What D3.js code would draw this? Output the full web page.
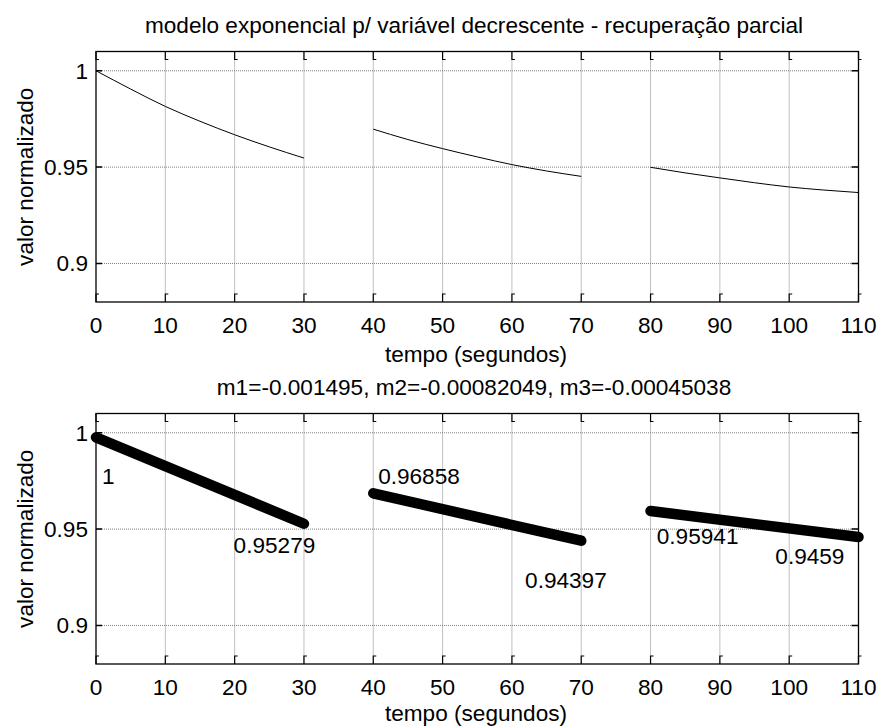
<!DOCTYPE html>
<html>
<head>
<meta charset="utf-8">
<script src="https://cdn.jsdelivr.net/npm/d3@7"></script>
<style>
  body { margin: 0; background: #fff; }
  text { font-family: "Liberation Sans", Arial, sans-serif; fill: #000; }
</style>
</head>
<body>
<svg id="chart"></svg>
<script>
// ticks
const xTicks = [0, 10, 20, 30, 40, 50, 60, 70, 80, 90, 100, 110]
const yTicks = [0.9, 0.95, 1]

// measured curves (top panel)
const tempo1 = [0, 5, 10, 15, 20, 25, 30]
const valor1 = [1.0, 0.9905, 0.9815, 0.9738, 0.9668, 0.9605, 0.9547]
const tempo2 = [40, 45, 50, 55, 60, 65, 70]
const valor2 = [0.9697, 0.9643, 0.9596, 0.9553, 0.9513, 0.9480, 0.9452]
const tempo3 = [80, 85, 90, 95, 100, 105, 110]
const valor3 = [0.9499, 0.9470, 0.9444, 0.9419, 0.9397, 0.9381, 0.9368]

// linear fits (bottom panel)
const fitT0 = [0, 40, 80]
const fitT1 = [30, 70, 110]
const fitV0 = [0.99764, 0.96858, 0.95941]
const fitV1 = [0.95279, 0.94397, 0.9459]

// value labels on the bottom panel
const labelText = ['1', '0.95279', '0.96858', '0.94397', '0.95941', '0.9459']
const labelT = [0.87, 19.85, 40.7, 61.9, 80.9, 98.0]
const labelV = [0.9732, 0.9377, 0.9735, 0.9195, 0.9421, 0.9317]

const width = 880
const height = 727
const left = 96
const right = 858.5
const fontSize = 22.6

let svg = d3.select('#chart')
  .attr('width', width)
  .attr('height', height)

let x = d3.scaleLinear().domain([0, 110]).range([left, right])

function panel(top, bottom, title, xlabelGap) {
  let y = d3.scaleLinear().domain([0.88, 1.01]).range([bottom, top])
  let g = svg.append('g')

  // grid
  g.selectAll('.gx').data(xTicks.slice(1, -1)).enter()
    .append('line')
    .attr('x1', d => x(d)).attr('x2', d => x(d))
    .attr('y1', top).attr('y2', bottom)
    .attr('stroke', '#808080').attr('stroke-dasharray', '1,1')
  g.selectAll('.gy').data(yTicks).enter()
    .append('line')
    .attr('x1', left).attr('x2', right)
    .attr('y1', d => y(d)).attr('y2', d => y(d))
    .attr('stroke', '#808080').attr('stroke-dasharray', '1,1')

  // tick marks, inward
  g.selectAll('.tb').data(xTicks).enter()
    .append('path')
    .attr('d', d => `M${x(d)},${bottom}v-8h3M${x(d)},${top}v8h3`)
    .attr('fill', 'none').attr('stroke', '#000').attr('stroke-width', 1.2)
  g.selectAll('.ty').data(yTicks).enter()
    .append('path')
    .attr('d', d => `M${left},${y(d)}h6M${right},${y(d)}h-7`)
    .attr('fill', 'none').attr('stroke', '#000').attr('stroke-width', 1.5)

  // box
  g.append('rect')
    .attr('x', left).attr('y', top)
    .attr('width', right - left).attr('height', bottom - top)
    .attr('fill', 'none').attr('stroke', '#000').attr('stroke-width', 1.3)

  // tick labels
  g.selectAll('.lx').data(xTicks).enter()
    .append('text')
    .attr('x', d => x(d)).attr('y', bottom + 31)
    .attr('text-anchor', 'middle')
    .style('font-size', fontSize + 'px')
    .text(d => d)
  g.selectAll('.ly').data(yTicks).enter()
    .append('text')
    .attr('x', left - 8).attr('y', d => y(d))
    .attr('dy', '0.35em')
    .attr('text-anchor', 'end')
    .style('font-size', fontSize + 'px')
    .text(d => d)

  // titles
  g.append('text')
    .attr('x', 474).attr('y', top - 19)
    .attr('text-anchor', 'middle')
    .style('font-size', fontSize + 'px')
    .text(title)
  g.append('text')
    .attr('x', 476).attr('y', bottom + xlabelGap)
    .attr('text-anchor', 'middle')
    .style('font-size', fontSize + 'px')
    .text('tempo (segundos)')
  g.append('text')
    .attr('transform', `translate(33,${(top + bottom) / 2}) rotate(-90)`)
    .attr('text-anchor', 'middle')
    .style('font-size', fontSize + 'px')
    .text('valor normalizado')

  return { g: g, y: y }
}

// top panel: exponential curves
let p1 = panel(51.5, 302, 'modelo exponencial p/ variável decrescente - recuperação parcial', 60)
let line = d3.line()
  .x(d => x(d[0]))
  .y(d => p1.y(d[1]))
  .curve(d3.curveMonotoneX)
let curves = [d3.zip(tempo1, valor1), d3.zip(tempo2, valor2), d3.zip(tempo3, valor3)]
p1.g.selectAll('.curve').data(curves).enter()
  .append('path')
  .attr('d', line)
  .attr('fill', 'none')
  .attr('stroke', '#000')
  .attr('stroke-width', 1)

// bottom panel: linear fits drawn as fat markers
let p2 = panel(413.5, 664, 'm1=-0.001495, m2=-0.00082049, m3=-0.00045038', 57)
let fits = d3.range(fitT0.length).map(i => [[fitT0[i], fitV0[i]], [fitT1[i], fitV1[i]]])
p2.g.selectAll('.fit').data(fits).enter()
  .append('line')
  .attr('x1', d => x(d[0][0])).attr('y1', d => p2.y(d[0][1]))
  .attr('x2', d => x(d[1][0])).attr('y2', d => p2.y(d[1][1]))
  .attr('stroke', '#000')
  .attr('stroke-width', 10.5)
  .attr('stroke-linecap', 'round')

p2.g.selectAll('.lbl').data(labelText).enter()
  .append('text')
  .attr('x', (d, i) => x(labelT[i]))
  .attr('y', (d, i) => p2.y(labelV[i]))
  .style('font-size', fontSize + 'px')
  .text(d => d)
</script>
</body>
</html>
